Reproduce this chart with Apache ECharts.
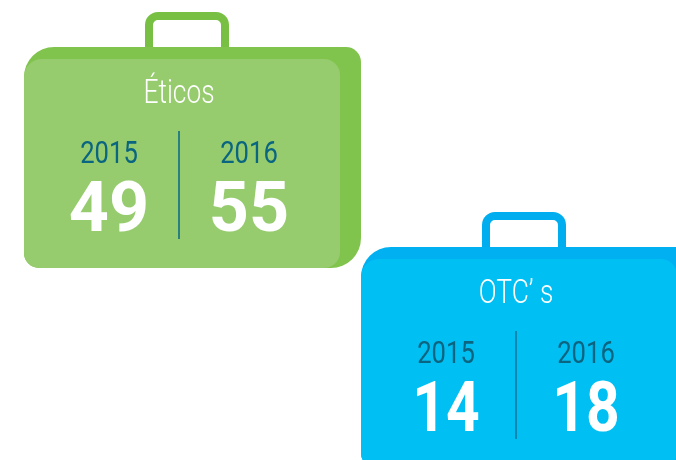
<!DOCTYPE html>
<html>
<head>
<meta charset="utf-8">
<style>
  html, body { margin: 0; padding: 0; background: #fff; }
  #main { width: 676px; height: 460px; }
</style>
<script src="https://cdn.jsdelivr.net/npm/echarts@6/dist/echarts.min.js"></script>
</head>
<body>
<div id="main"></div>
<script>
var categories = ['Éticos', "OTC’ s"];
var years = ['2015', '2016'];
var eticosValues = [49, 55];
var otcValues = [14, 18];

// one suitcase, everything relative to the top left of the body
function suitcase(ox, oy, title, values, c) {
  var els = [];
  // handle, bottom is hidden behind the body
  els.push({
    type: 'rect', x: ox, y: oy, z: 1,
    shape: { x: 125, y: 16, width: 76, height: 60, r: 9 },
    style: { fill: 'none', stroke: c.handle, lineWidth: 8 }
  });
  // back
  els.push({
    type: 'rect', x: ox, y: oy, z: 2,
    shape: { x: 0, y: 47, width: 337, height: 221, r: [30, 15, 30, 15] },
    style: { fill: c.back }
  });
  // front
  els.push({
    type: 'rect', x: ox, y: oy, z: 3,
    shape: { x: 0, y: 59, width: 316, height: 209, r: [18, 16, 16, 15] },
    style: { fill: c.front }
  });
  // divider
  els.push({
    type: 'rect', x: ox, y: oy, z: 4,
    shape: { x: 154, y: 131, width: 2, height: 108 },
    style: { fill: c.line }
  });
  els.push({
    type: 'text', x: ox + 155, y: oy + 95, scaleX: 0.8, z: 5,
    style: { text: title, fill: '#fff', font: '300 33px Roboto', textAlign: 'center', textVerticalAlign: 'middle' }
  });
  var cols = [85, 225];
  years.forEach(function (y, i) {
    els.push({
      type: 'text', x: ox + cols[i], y: oy + 155, scaleX: 0.8, z: 5,
      style: { text: y, fill: c.year, font: '32px Roboto', textAlign: 'center', textVerticalAlign: 'middle' }
    });
    els.push({
      type: 'text', x: ox + cols[i], y: oy + 213, scaleX: c.numScale, z: 5,
      style: { text: String(values[i]), fill: '#fff', font: 'bold 70px Roboto', textAlign: 'center', textVerticalAlign: 'middle' }
    });
  });
  return els;
}

var chart = echarts.init(document.getElementById('main'));
chart.setOption({
  animation: false,
  graphic: {
    elements: suitcase(24, 0, categories[0], eticosValues, {
      handle: '#78c043', back: '#80c44e', front: '#96cb6e', line: '#2a7f7f', year: '#0a6580', numScale: 1
    }).concat(suitcase(361, 200, categories[1], otcValues, {
      handle: '#00aeef', back: '#00b0f0', front: '#00bff3', line: '#0f86ad', year: '#0b6580', numScale: 0.84
    }))
  }
});
</script>
</body>
</html>
